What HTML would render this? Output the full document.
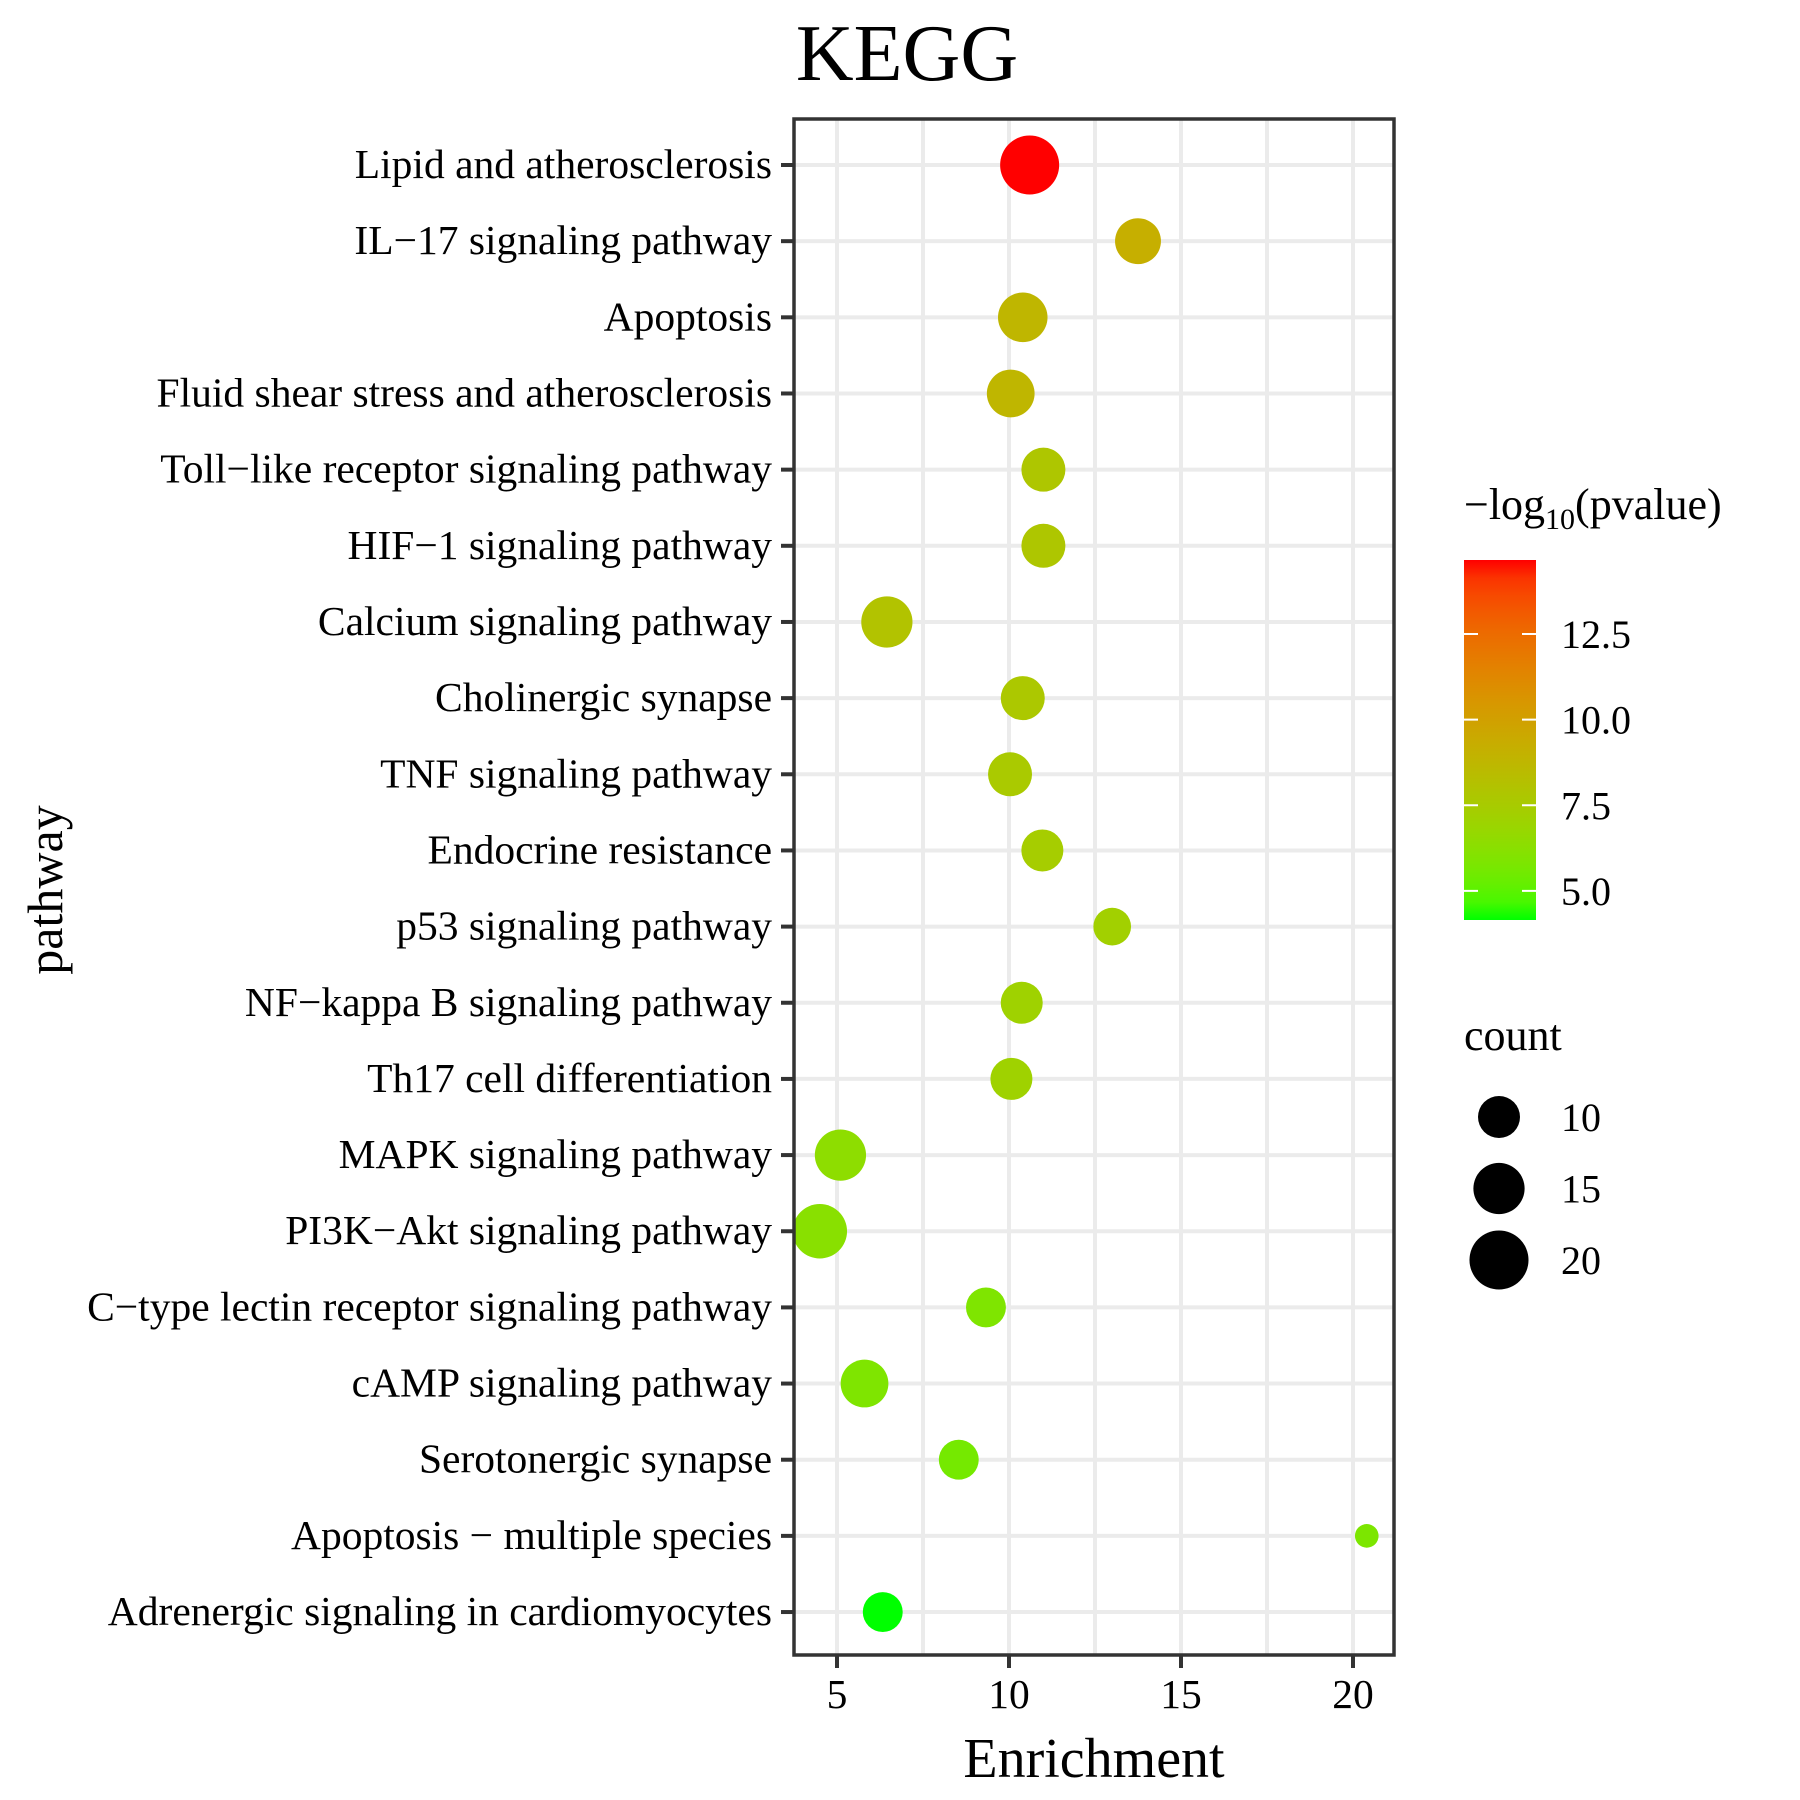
<!DOCTYPE html>
<html><head><meta charset="utf-8"><style>
html,body{margin:0;padding:0;background:#fff;}
svg{display:block;font-family:"Liberation Serif","DejaVu Serif",serif;}
</style></head><body>
<svg id="chart" width="1800" height="1800" viewBox="0 0 1800 1800" xmlns="http://www.w3.org/2000/svg">
<rect width="1800" height="1800" fill="#fff"/>
<text x="907" y="80" font-size="80" text-anchor="middle">KEGG</text>
<g id="panel"></g>
<text x="1094" y="1777" font-size="56" text-anchor="middle">Enrichment</text>
<text transform="translate(62,890) rotate(-90)" font-size="50" text-anchor="middle">pathway</text>
<g id="legend"></g>
</svg>
<script>
const pathways = ["Lipid and atherosclerosis","IL\u221217 signaling pathway","Apoptosis","Fluid shear stress and atherosclerosis","Toll\u2212like receptor signaling pathway","HIF\u22121 signaling pathway","Calcium signaling pathway","Cholinergic synapse","TNF signaling pathway","Endocrine resistance","p53 signaling pathway","NF\u2212kappa B signaling pathway","Th17 cell differentiation","MAPK signaling pathway","PI3K\u2212Akt signaling pathway","C\u2212type lectin receptor signaling pathway","cAMP signaling pathway","Serotonergic synapse","Apoptosis \u2212 multiple species","Adrenergic signaling in cardiomyocytes"];
const enrichment = [10.6,13.75,10.4,10.05,11.0,11.0,6.45,10.4,10.03,10.97,13.0,10.37,10.07,5.1,4.5,9.33,5.8,8.54,20.4,6.33];
const counts = [20,12,14,13,11,11,15,11,11,10,8,10,10,15,17,9,13,9,3,9];
const logp = [14.66,9.2,8.8,8.8,7.8,7.8,8.0,7.7,7.6,7.4,7.2,7.1,7.1,6.4,6.2,5.9,5.9,5.6,5.8,4.15];
const xTicks = [5,10,15,20];
const colorTicks = [12.5,10.0,7.5,5.0];
const sizeTicks = [10,15,20];

const NS="http://www.w3.org/2000/svg";
function mk(tag, attrs, parent){const e=document.createElementNS(NS,tag);for(const k in attrs)e.setAttribute(k,attrs[k]);parent.appendChild(e);return e;}
const PL=794,PR=1394,PT=119,PB=1655;
const xScale=v=>837+(v-5)*34.4;
const yScale=i=>165+i*76.16;
const rScale=c=>Math.sqrt(43*c+11);
const CMIN=4.15,CMAX=14.66;
function srgb2lin(c){c/=255;return c<=0.04045?c/12.92:Math.pow((c+0.055)/1.055,2.4);}
function lin2srgb(c){c=c<=0.0031308?12.92*c:1.055*Math.pow(c,1/2.4)-0.055;return Math.max(0,Math.min(255,Math.round(c*255)));}
function toLab(r,g,b){r=srgb2lin(r);g=srgb2lin(g);b=srgb2lin(b);
let X=(0.4124*r+0.3576*g+0.1805*b)/0.95047,Y=0.2126*r+0.7152*g+0.0722*b,Z=(0.0193*r+0.1192*g+0.9505*b)/1.08883;
const f=t=>t>0.008856?Math.cbrt(t):7.787*t+16/116;
return [116*f(Y)-16,500*(f(X)-f(Y)),200*(f(Y)-f(Z))];}
function fromLab(L,a,b){let fy=(L+16)/116,fx=fy+a/500,fz=fy-b/200;
const fi=t=>t*t*t>0.008856?t*t*t:(t-16/116)/7.787;
let X=fi(fx)*0.95047,Y=fi(fy),Z=fi(fz)*1.08883;
let r=3.2406*X-1.5372*Y-0.4986*Z,g=-0.9689*X+1.8758*Y+0.0415*Z,bb=0.0557*X-0.2040*Y+1.0570*Z;
return "rgb("+lin2srgb(r)+","+lin2srgb(g)+","+lin2srgb(bb)+")";}
const LG=toLab(0,255,0),LR=toLab(255,0,0);
function colorScale(v){let t=(v-CMIN)/(CMAX-CMIN);t=Math.max(0,Math.min(1,t));
return fromLab(LG[0]+(LR[0]-LG[0])*t,LG[1]+(LR[1]-LG[1])*t,LG[2]+(LR[2]-LG[2])*t);}

const panel=document.getElementById('panel');
[7.5,12.5,17.5].concat(xTicks).forEach(v=>{
 const g=mk('line',{x1:xScale(v),x2:xScale(v),y1:PT,y2:PB,stroke:'#ebebeb','stroke-width':4},panel);
 
 
});
pathways.forEach((p,i)=>{
 const g=mk('line',{x1:PL,x2:PR,y1:yScale(i),y2:yScale(i),stroke:'#ebebeb','stroke-width':4},panel);
 
 
});
pathways.forEach((p,i)=>{
 const c=mk('circle',{cx:xScale(enrichment[i]),cy:yScale(i),r:rScale(counts[i]),fill:colorScale(logp[i])},panel);
 
 
});
const border=mk('rect',{x:PL,y:PT,width:PR-PL,height:PB-PT,fill:'none',stroke:'#333','stroke-width':3.5},panel);


pathways.forEach((p,i)=>{
 const t=mk('line',{x1:781,x2:PL,y1:yScale(i),y2:yScale(i),stroke:'#333','stroke-width':4},panel);
 
 
 const l=mk('text',{x:772,y:yScale(i)+13,'font-size':41.5,'text-anchor':'end'},panel);
 l.textContent=p;
 
 
});
xTicks.forEach(v=>{
 const t=mk('line',{x1:xScale(v),x2:xScale(v),y1:PB,y2:PB+13,stroke:'#333','stroke-width':4},panel);
 
 
 const l=mk('text',{x:xScale(v),y:PB+53,'font-size':41.5,'text-anchor':'middle'},panel);
 l.textContent=v;
 
 
});
const lg=document.getElementById('legend');
const lt=mk('text',{x:1464,y:519,'font-size':44},lg);
lt.innerHTML='\u2212log<tspan font-size="30" dy="10">10</tspan><tspan dy="-10">(pvalue)</tspan>';


const defs=mk('defs',{},lg);
const grad=mk('linearGradient',{id:'cg',x1:0,y1:1,x2:0,y2:0},defs);
for(let k=0;k<=20;k++){const v=CMIN+(CMAX-CMIN)*k/20;mk('stop',{offset:(k/20),'stop-color':colorScale(v)},grad);}
const CBT=560,CBB=920;
const cbY=v=>CBB-(v-CMIN)/(CMAX-CMIN)*(CBB-CBT);
const bar=mk('rect',{x:1464,y:CBT,width:72,height:CBB-CBT,fill:'url(#cg)'},lg);


colorTicks.forEach(v=>{
 const y=cbY(v);
 mk('line',{x1:1464,x2:1478,y1:y,y2:y,stroke:'#fff','stroke-width':2},lg);
 mk('line',{x1:1522,x2:1536,y1:y,y2:y,stroke:'#fff','stroke-width':2},lg);
 const l=mk('text',{x:1561,y:y+14,'font-size':40},lg);
 l.textContent=v.toFixed(1);
 
 
});
const st=mk('text',{x:1464,y:1050,'font-size':44},lg);
st.textContent='count';


sizeTicks.forEach((v,k)=>{
 const y=1117+k*71.5;
 const c=mk('circle',{cx:1499,cy:y,r:rScale(v),fill:'#000'},lg);
 
 
 const l=mk('text',{x:1561,y:y+14,'font-size':40},lg);
 l.textContent=v;
 
 
});
</script>
</body></html>
